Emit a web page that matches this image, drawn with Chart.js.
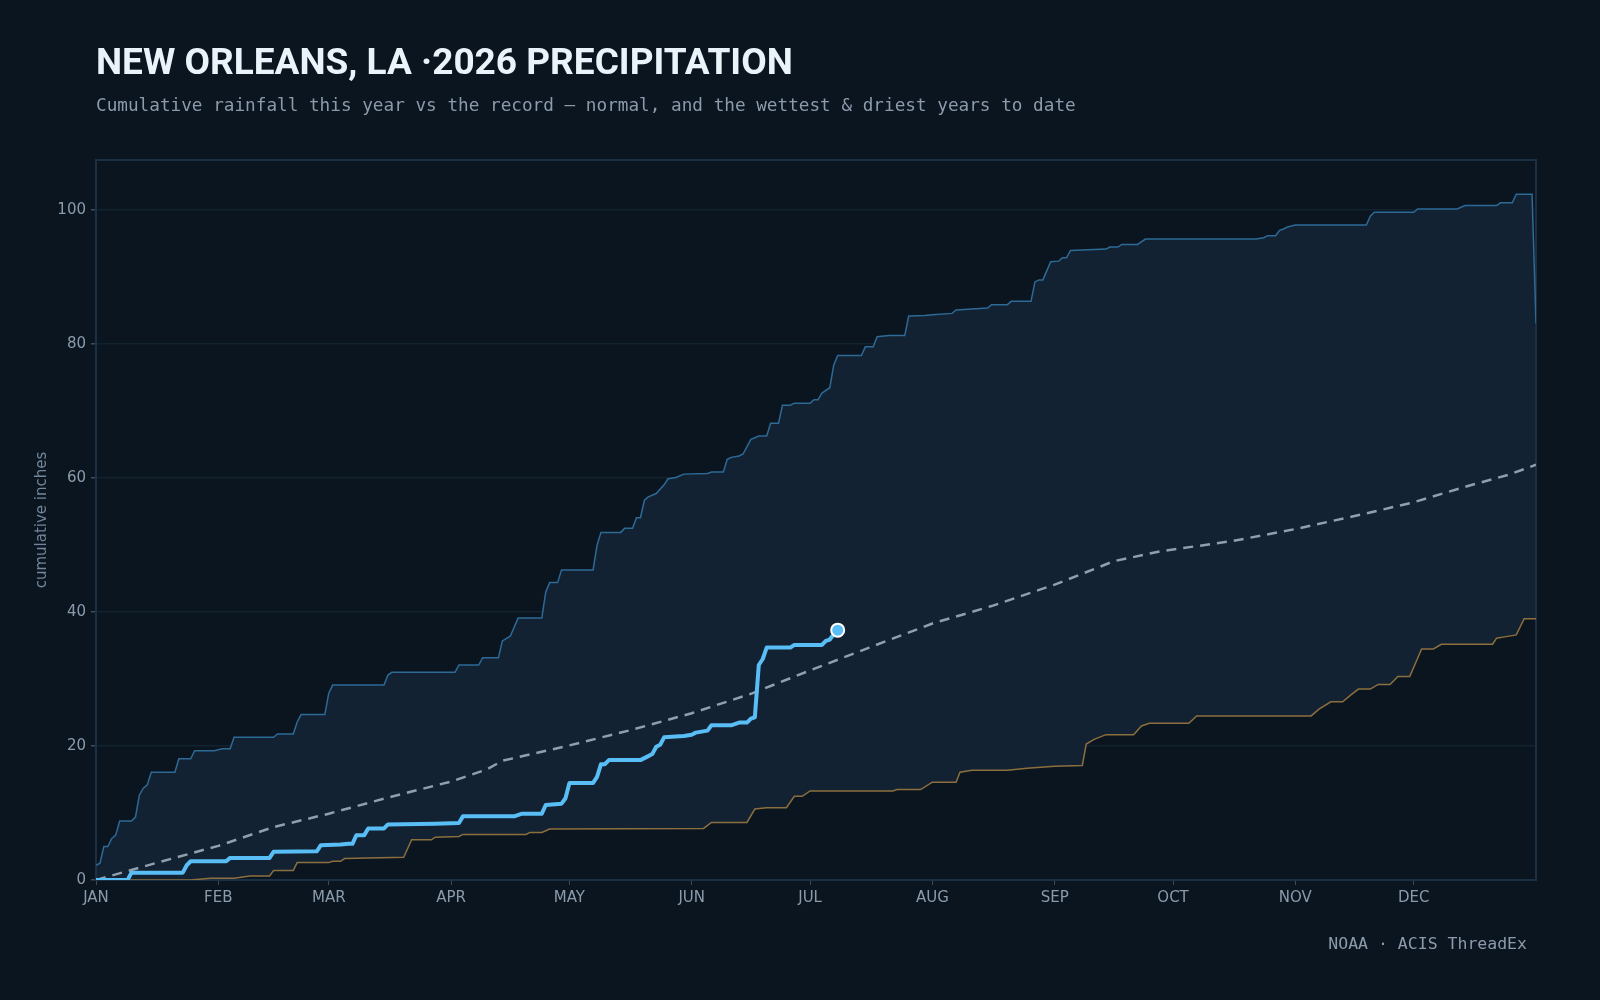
<!DOCTYPE html>
<html>
<head>
<meta charset="utf-8">
<title>New Orleans, LA 2026 precipitation</title>
<script src="https://cdn.jsdelivr.net/npm/chart.js@4.4.1/dist/chart.umd.min.js"></script>
<style>
  body { margin: 0; background: #0b1520; }
  #wrap { position: relative; width: 1600px; height: 1000px; overflow: hidden; }
  #chart { position: absolute; left: 0; top: 0; }
  .title { position: absolute; left: 96px; top: 40px; font: 700 37px "Roboto"; color: #eaf3fa; white-space: nowrap; }
  .subtitle { position: absolute; left: 96px; top: 95px; font: 17.7px "DejaVu Sans Mono"; color: #8c9bab; white-space: nowrap; }
  .source { position: absolute; right: 73px; top: 934px; font: 16.5px "DejaVu Sans Mono"; color: #8c9bab; white-space: nowrap; }
</style>
</head>
<body>
<div id="wrap">
  <canvas id="chart" width="1600" height="1000"></canvas>
  <div class="title">NEW ORLEANS, LA ·2026 PRECIPITATION</div>
  <div class="subtitle">Cumulative rainfall this year vs the record — normal, and the wettest &amp; driest years to date</div>
  <div class="source">NOAA · ACIS ThreadEx</div>
</div>
<script>
// x axis: day of year (0 = Jan 1)
const monthLabels = ["JAN", "FEB", "MAR", "APR", "MAY", "JUN", "JUL", "AUG", "SEP", "OCT", "NOV", "DEC"];
const monthStarts = [0, 31, 59, 90, 120, 151, 181, 212, 243, 273, 304, 334];
const yTicks = [0, 20, 40, 60, 80, 100];

// wettest year on record, cumulative inches
const wettestDays = [0, 1, 2, 3, 4, 5, 6, 9, 10, 11, 12, 13, 14, 20, 21, 24, 25, 30, 32, 34, 35, 45, 46, 50, 51, 52, 58, 59, 60, 73,
  74, 75, 91, 92, 97, 98, 102, 103, 105, 107, 113, 114, 115, 117, 118, 126, 127, 128, 133, 134, 136, 137, 138, 139, 140, 142, 144, 145, 147, 149,
  155, 156, 159, 160, 161, 163, 164, 166, 168, 170, 171, 173, 174, 176, 177, 181, 182, 183, 184, 186, 187, 188, 194, 195, 197, 198, 201, 205, 206, 210,
  212, 217, 218, 221, 226, 227, 231, 232, 237, 238, 239, 240, 242, 244, 245, 246, 247, 256, 257, 259, 260, 264, 266, 294, 296, 297, 299, 300, 301, 302,
  304, 322, 323, 324, 334, 335, 345, 347, 355, 356, 359, 360, 364, 365];
const wettestInches = [2.2, 2.5, 5.0, 5.0, 6.2, 6.7, 8.8, 8.8, 9.4, 12.7, 13.7, 14.2, 16.1, 16.1, 18.1, 18.1, 19.3, 19.3, 19.6, 19.6, 21.3, 21.3, 21.8, 21.8, 23.6, 24.7, 24.7, 27.9, 29.1, 29.1,
  30.6, 31.0, 31.0, 32.1, 32.1, 33.2, 33.2, 35.7, 36.4, 39.1, 39.1, 43.0, 44.4, 44.4, 46.3, 46.3, 50.0, 51.9, 51.9, 52.5, 52.5, 54.1, 54.1, 56.7, 57.2, 57.7, 59.0, 59.9, 60.1, 60.6,
  60.7, 60.9, 60.9, 62.8, 63.1, 63.3, 63.6, 65.8, 66.3, 66.3, 68.2, 68.2, 70.9, 70.9, 71.2, 71.2, 71.7, 71.7, 72.7, 73.5, 76.9, 78.3, 78.3, 79.6, 79.6, 81.1, 81.3, 81.3, 84.2, 84.3,
  84.4, 84.6, 85.1, 85.2, 85.4, 85.9, 85.9, 86.4, 86.4, 89.3, 89.6, 89.6, 92.3, 92.4, 92.9, 92.9, 94.0, 94.2, 94.5, 94.5, 94.9, 94.9, 95.7, 95.7, 95.9, 96.2, 96.2, 97.0, 97.2, 97.5,
  97.8, 97.8, 99.1, 99.7, 99.7, 100.2, 100.2, 100.7, 100.7, 101.1, 101.1, 102.4, 102.4, 83.1];

// driest year on record
const driestDays = [0, 24, 29, 35, 39, 44, 45, 50, 51, 59, 60, 62, 63, 78, 80, 85, 86, 92, 93, 109, 110, 113, 115, 154, 156, 165, 167, 170, 175, 177,
  179, 181, 202, 203, 209, 212, 218, 219, 222, 231, 236, 243, 250, 251, 253, 256, 263, 265, 267, 277, 279, 308, 310, 313, 316, 318, 320, 323, 325, 328,
  330, 333, 335, 336, 339, 341, 354, 355, 357, 360, 362, 365];
const driestInches = [0, 0, 0.25, 0.25, 0.6, 0.6, 1.4, 1.4, 2.6, 2.6, 2.8, 2.8, 3.2, 3.4, 6.0, 6.0, 6.4, 6.5, 6.8, 6.8, 7.1, 7.1, 7.6, 7.7, 8.6, 8.6, 10.6, 10.8, 10.8, 12.5,
  12.5, 13.3, 13.3, 13.5, 13.5, 14.6, 14.6, 16.1, 16.4, 16.4, 16.7, 17.0, 17.1, 20.3, 21.0, 21.7, 21.7, 23.0, 23.4, 23.4, 24.5, 24.5, 25.5, 26.6, 26.6, 27.6, 28.5, 28.5, 29.2, 29.2,
  30.4, 30.4, 33.1, 34.5, 34.5, 35.2, 35.2, 36.1, 36.3, 36.6, 39.0, 39.0];

// normal cumulative
const normalDays = [0, 15, 31, 45, 59, 74, 90, 99, 103, 120, 135, 151, 166, 181, 196, 212, 227, 243, 258, 270, 288, 304, 321, 334, 347, 358, 365];
const normalInches = [0.0, 2.5, 5.1, 7.9, 9.9, 12.3, 14.7, 16.5, 17.8, 20.1, 22.3, 24.9, 27.8, 31.3, 34.7, 38.3, 40.9, 44.1, 47.6, 49.1, 50.6, 52.4, 54.6, 56.4, 58.7, 60.5, 62.0];

// 2026 so far
const yearDays = [0, 8, 9, 22, 23, 24, 33, 34, 44, 45, 56, 57, 62, 64, 65, 66, 68, 69, 73, 74, 86, 92, 93, 106, 108, 113, 114, 118, 119, 120,
  126, 127, 128, 129, 130, 138, 140, 141, 142, 143, 144, 149, 151, 152, 155, 156, 161, 163, 165, 166, 167, 168, 169, 170, 176, 177, 184, 185, 186, 187, 188];
const yearInches = [0, 0, 1.1, 1.1, 2.2, 2.8, 2.8, 3.3, 3.3, 4.2, 4.3, 5.2, 5.3, 5.4, 5.4, 6.7, 6.7, 7.7, 7.7, 8.3, 8.4, 8.5, 9.5, 9.5, 9.9, 9.9, 11.2, 11.4, 12.2, 14.5,
  14.5, 15.4, 17.3, 17.3, 17.9, 17.9, 18.5, 18.8, 19.9, 20.2, 21.3, 21.5, 21.7, 22.0, 22.3, 23.1, 23.1, 23.5, 23.5, 24.1, 24.3, 32.1, 33.0, 34.7, 34.7, 35.1, 35.1, 35.7, 35.9, 36.7, 37.3];

const toPoints = (days, vals) => days.map((d, i) => ({ x: d, y: vals[i] }));

const tickColor = "#8a9bab";
const axisFont = { family: "DejaVu Sans", size: 15 };

// plot frame
const framePlugin = {
  id: "frame",
  beforeDatasetsDraw(chart) {
    const a = chart.chartArea, c = chart.ctx;
    c.save();
    c.strokeStyle = "#1b3044";
    c.lineWidth = 2;
    c.strokeRect(a.left, a.top, a.right - a.left, a.bottom - a.top);
    c.restore();
  },
};

new Chart(document.getElementById("chart"), {
  type: "line",
  data: {
    datasets: [
      {
        label: "2026",
        data: toPoints(yearDays, yearInches),
        borderColor: "#59bdf6",
        borderWidth: 4,
        borderJoinStyle: "round",
        borderCapStyle: "round",
        pointRadius: (c) => (c.dataIndex === yearDays.length - 1 ? 6.5 : 0),
        pointBackgroundColor: "#59bdf6",
        pointBorderColor: "#ffffff",
        pointBorderWidth: 2,
        fill: false,
        order: 0,
      },
      {
        label: "Normal",
        data: toPoints(normalDays, normalInches),
        borderColor: "#909fae",
        borderWidth: 2.5,
        borderDash: [10, 7],
        pointRadius: 0,
        fill: false,
        order: 1,
      },
      {
        label: "Driest",
        data: toPoints(driestDays, driestInches),
        borderColor: "#8c6f3e",
        borderWidth: 1.5,
        pointRadius: 0,
        fill: false,
        order: 2,
      },
      {
        label: "Wettest",
        data: toPoints(wettestDays, wettestInches),
        borderColor: "#2d6a96",
        borderWidth: 1.5,
        pointRadius: 0,
        fill: { target: 2 },
        backgroundColor: "#122232",
        order: 3,
      },
    ],
  },
  options: {
    responsive: false,
    animation: false,
    events: [],
    layout: { padding: { top: 160, right: 64, bottom: 0, left: 0 } },
    plugins: {
      legend: { display: false },
      tooltip: { enabled: false },
      filler: { drawTime: "beforeDatasetsDraw" },
    },
    elements: { line: { tension: 0 } },
    scales: {
      x: {
        type: "linear",
        min: 0,
        max: 365,
        afterBuildTicks: (s) => { s.ticks = monthStarts.map((v) => ({ value: v })); },
        afterFit: (s) => { s.height = 120; },
        ticks: {
          callback: (v) => monthLabels[monthStarts.indexOf(v)],
          color: tickColor,
          font: axisFont,
          padding: 4,
          maxRotation: 0,
          autoSkip: false,
        },
        grid: { drawOnChartArea: false, drawTicks: true, tickLength: 5, tickColor: "#3b4c5d" },
        border: { display: false },
      },
      y: {
        min: 0,
        max: 107.5,
        afterBuildTicks: (s) => { s.ticks = yTicks.map((v) => ({ value: v })); },
        afterFit: (s) => { s.width = 96; },
        ticks: { color: tickColor, font: axisFont, padding: 5 },
        grid: { color: "#13222f", lineWidth: 1.5, tickLength: 5, tickColor: "#3b4c5d" },
        border: { display: false },
        title: {
          display: true,
          text: "cumulative inches",
          color: "#72869a",
          font: { family: "DejaVu Sans", size: 15 },
          padding: { top: 33, bottom: 0 },
        },
      },
    },
  },
  plugins: [framePlugin],
});
</script>
</body>
</html>
